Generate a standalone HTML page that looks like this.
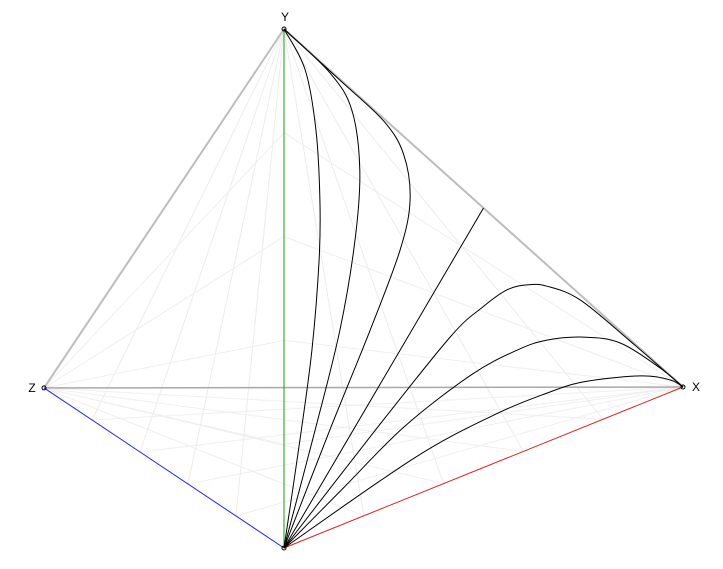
<!DOCTYPE html>
<html><head><meta charset="utf-8"><style>
html,body{margin:0;padding:0;background:#fff;}
svg{display:block;font-family:"Liberation Sans",sans-serif;}
</style></head><body>
<svg id="chart" width="723" height="569" viewBox="0 0 723 569">
<g id="grid"></g>
<g id="axes"></g>
<g id="series"></g>
<g id="labels"></g>
</svg>
<script>
// anchor data points
const originPt = [0, 0];
const xPt = [1, 0];
const yPt = [0, 1];
const zPt = [-0.6015, 0.495];
// curve data (a along X, b along Y)
const curveA1 = [0, .040, .070, .088, .090, .080, .053, 0];
const curveB1 = [0, .196, .360, .528, .643, .781, .905, 1];
const curveA2 = [0, .078, .140, .178, .190, .170, .115, 0];
const curveB2 = [0, .203, .376, .538, .669, .791, .880, 1];
const curveA3 = [0, .115, .216, .291, .316, .300, .250, .140, 0];
const curveB3 = [0, .192, .353, .484, .573, .665, .745, .858, 1];
const curveA4 = [0, .5];
const curveB4 = [0, .5];
const curveA5 = [0, .220, .416, .499, .559, .609, .659, .742, .867, 1];
const curveB5 = [0, .150, .277, .310, .324, .318, .300, .248, .130, 0];
const curveA6 = [0, .150, .301, .469, .584, .659, .752, .842, .942, 1];
const curveB6 = [0, .070, .140, .188, .200, .196, .173, .134, .055, 0];
const curveA7 = [0, .326, .526, .659, .752, .892, .967, 1];
const curveB7 = [0, .072, .093, .094, .087, .055, .024, 0];
const gridTicks = [0.2, 0.4, 0.6, 0.8];

const O = [284, 548], VX = [399, -161], VY = [0, -519];
function sx(a, b) { return O[0] + a * VX[0] + b * VY[0]; }
function sy(a, b) { return O[1] + a * VX[1] + b * VY[1]; }
const NS = 'http://www.w3.org/2000/svg';
function line(g, p, q, stroke, w, name) {
  const l = document.createElementNS(NS, 'line');
  l.setAttribute('x1', sx(p[0], p[1])); l.setAttribute('y1', sy(p[0], p[1]));
  l.setAttribute('x2', sx(q[0], q[1])); l.setAttribute('y2', sy(q[0], q[1]));
  l.setAttribute('stroke', stroke); l.setAttribute('stroke-width', w);
  
  
  g.appendChild(l);
}
function lerp(p, q, t) { return [p[0] + (q[0] - p[0]) * t, p[1] + (q[1] - p[1]) * t]; }
const grid = document.getElementById('grid');
gridTicks.forEach(t => {
  line(grid, lerp(zPt, originPt, t), yPt, '#ececec', 1, 'grid-line');
  line(grid, lerp(xPt, originPt, t), yPt, '#ececec', 1, 'grid-line');
  line(grid, lerp(zPt, originPt, t), xPt, '#efefef', 1, 'grid-line');
  line(grid, lerp(originPt, xPt, t), zPt, '#efefef', 1, 'grid-line');
  line(grid, lerp(originPt, yPt, t), zPt, '#efefef', 1, 'grid-line');
  line(grid, lerp(originPt, yPt, t), xPt, '#efefef', 1, 'grid-line');
});
const axes = document.getElementById('axes');
line(axes, zPt, yPt, '#bdbdbd', 2, 'edge-z-y');
line(axes, yPt, xPt, '#bdbdbd', 2, 'edge-y-x');
line(axes, zPt, xPt, '#a8a8a8', 1.5, 'edge-z-x');
line(axes, originPt, yPt, '#1a9a1a', 1, 'y-axis');
line(axes, originPt, zPt, '#2222ee', 1, 'z-axis');
line(axes, originPt, xPt, '#dd2222', 1, 'x-axis');
const series = document.getElementById('series');
const curvesA = [curveA1, curveA2, curveA3, curveA4, curveA5, curveA6, curveA7];
const curvesB = [curveB1, curveB2, curveB3, curveB4, curveB5, curveB6, curveB7];
curvesA.forEach((ca, i) => {
  const cb = curvesB[i];
  const pts = ca.map((a, j) => [sx(a, cb[j]), sy(a, cb[j])]);
  let d = 'M' + pts[0][0] + ',' + pts[0][1];
  if (pts.length === 2) d += ' L' + pts[1][0] + ',' + pts[1][1];
  else {
    for (let j = 0; j < pts.length - 1; j++) {
      const p0 = pts[j - 1] || pts[j], p1 = pts[j], p2 = pts[j + 1], p3 = pts[j + 2] || p2;
      const c1 = [p1[0] + (p2[0] - p0[0]) / 6, p1[1] + (p2[1] - p0[1]) / 6];
      const c2 = [p2[0] - (p3[0] - p1[0]) / 6, p2[1] - (p3[1] - p1[1]) / 6];
      d += ' C' + c1[0] + ',' + c1[1] + ' ' + c2[0] + ',' + c2[1] + ' ' + p2[0] + ',' + p2[1];
    }
  }
  const p = document.createElementNS(NS, 'path');
  p.setAttribute('d', d); p.setAttribute('fill', 'none');
  p.setAttribute('stroke', '#000'); p.setAttribute('stroke-width', '1');
  
  
  series.appendChild(p);
});
const labels = document.getElementById('labels');
const anchors = [[originPt, ''], [xPt, 'X'], [yPt, 'Y'], [zPt, 'Z']];
const offs = [[0, 0], [13, 0], [1, -12], [-12, 0]];
anchors.forEach((an, i) => {
  const c = document.createElementNS(NS, 'circle');
  c.setAttribute('cx', sx(an[0][0], an[0][1])); c.setAttribute('cy', sy(an[0][0], an[0][1]));
  c.setAttribute('r', 2); c.setAttribute('fill', 'none'); c.setAttribute('stroke', '#000');
  
  
  labels.appendChild(c);
  if (an[1]) {
    const t = document.createElementNS(NS, 'text');
    t.setAttribute('x', sx(an[0][0], an[0][1]) + offs[i][0]);
    t.setAttribute('y', sy(an[0][0], an[0][1]) + offs[i][1] + 4);
    t.setAttribute('text-anchor', 'middle'); t.setAttribute('font-size', '12');
    t.textContent = an[1];
    
    
    labels.appendChild(t);
  }
});
</script>
</body></html>
